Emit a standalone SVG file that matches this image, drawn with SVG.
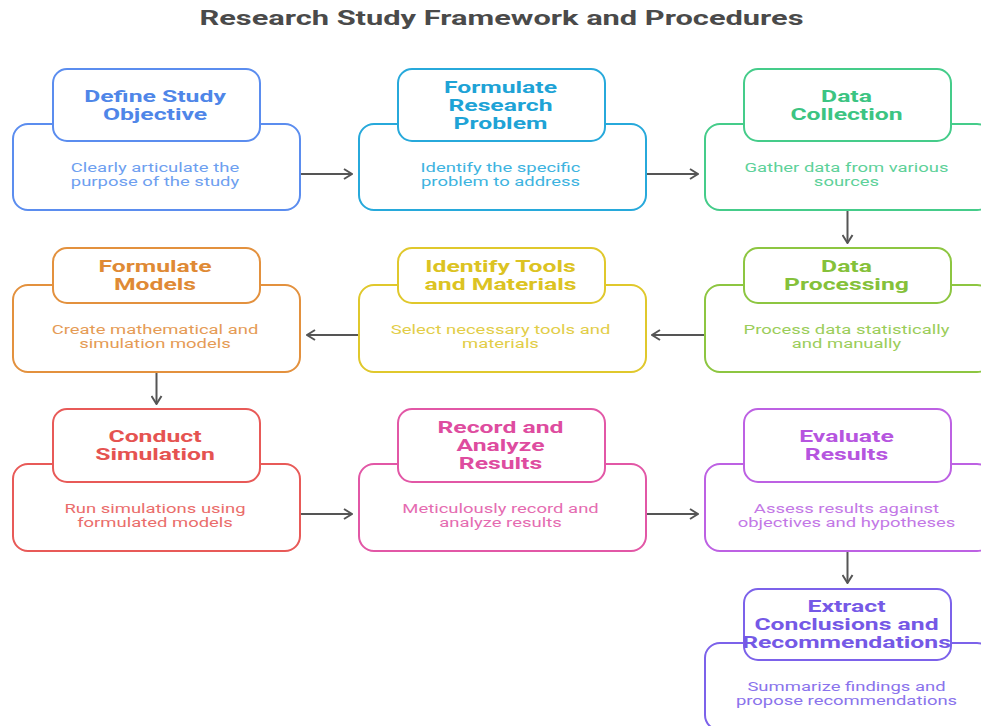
<svg xmlns="http://www.w3.org/2000/svg" width="981" height="726" viewBox="0 0 981 726">
<defs>
<style>
.hd{font-family:Roboto,"Liberation Sans",sans-serif;font-weight:bold;font-size:16.5px;text-anchor:middle}
.bd{font-family:Roboto,"Liberation Sans",sans-serif;font-size:13px;text-anchor:middle}
.box{fill:#fff;stroke-width:2}
.conn{stroke:#555;stroke-width:2;fill:none}
.title{font-family:Roboto,"Liberation Sans",sans-serif;font-weight:bold;font-size:20px;text-anchor:middle;fill:#4a4a4a}
</style>
<marker id="ah" viewBox="0 0 10 12" refX="9" refY="6" markerWidth="10" markerHeight="12" markerUnits="userSpaceOnUse" orient="auto">
<path d="M1 1 L9 6 L1 11" fill="none" stroke="#555" stroke-width="2"/>
</marker>
</defs>
<rect width="981" height="726" fill="#fff"/>
<g transform="translate(501.5 0) scale(1.54 1)"><text class="title" x="0" y="25">Research Study Framework and Procedures</text></g>

<g id="connectors">
<line class="conn" x1="300" y1="174" x2="352" y2="174" marker-end="url(#ah)"/>
<line class="conn" x1="646" y1="174" x2="698" y2="174" marker-end="url(#ah)"/>
<line class="conn" x1="847.5" y1="211" x2="847.5" y2="243" marker-end="url(#ah)"/>
<line class="conn" x1="705" y1="335" x2="652" y2="335" marker-end="url(#ah)"/>
<line class="conn" x1="359" y1="335" x2="307" y2="335" marker-end="url(#ah)"/>
<line class="conn" x1="156.5" y1="372" x2="156.5" y2="404" marker-end="url(#ah)"/>
<line class="conn" x1="300" y1="514" x2="352" y2="514" marker-end="url(#ah)"/>
<line class="conn" x1="646" y1="514" x2="698" y2="514" marker-end="url(#ah)"/>
<line class="conn" x1="847.5" y1="551" x2="847.5" y2="583" marker-end="url(#ah)"/>
</g>

<g id="n1">
<rect class="box" x="13" y="124" width="287" height="86" rx="15" stroke="#5b8def"/>
<rect class="box" x="53" y="69" width="207" height="72" rx="14" stroke="#5b8def"/>
<g transform="translate(155 0) scale(1.5 1)">
<text class="hd" x="0" y="102.5" fill="#4f86e8">Define Study</text>
<text class="hd" x="0" y="120.5" fill="#4f86e8">Objective</text>
</g>
<g transform="translate(155 0) scale(1.42 1)">
<text class="bd" x="0" y="172.5" fill="#6e9ff0">Clearly articulate the</text>
<text class="bd" x="0" y="186.5" fill="#6e9ff0">purpose of the study</text>
</g>
</g>

<g id="n2">
<rect class="box" x="359" y="124" width="287" height="86" rx="15" stroke="#27a9db"/>
<rect class="box" x="398" y="69" width="207" height="72" rx="14" stroke="#27a9db"/>
<g transform="translate(500.5 0) scale(1.5 1)">
<text class="hd" x="0" y="93" fill="#1ea3d6">Formulate</text>
<text class="hd" x="0" y="111" fill="#1ea3d6">Research</text>
<text class="hd" x="0" y="129" fill="#1ea3d6">Problem</text>
</g>
<g transform="translate(500.5 0) scale(1.42 1)">
<text class="bd" x="0" y="172.5" fill="#3db3e0">Identify the specific</text>
<text class="bd" x="0" y="186.5" fill="#3db3e0">problem to address</text>
</g>
</g>

<g id="n3">
<rect class="box" x="705" y="124" width="287" height="86" rx="15" stroke="#45cc8a"/>
<rect class="box" x="744" y="69" width="207" height="72" rx="14" stroke="#45cc8a"/>
<g transform="translate(846.5 0) scale(1.5 1)">
<text class="hd" x="0" y="102.5" fill="#3cc482">Data</text>
<text class="hd" x="0" y="120.5" fill="#3cc482">Collection</text>
</g>
<g transform="translate(846.5 0) scale(1.42 1)">
<text class="bd" x="0" y="172.5" fill="#5dd199">Gather data from various</text>
<text class="bd" x="0" y="186.5" fill="#5dd199">sources</text>
</g>
</g>

<g id="n4">
<rect class="box" x="705" y="285" width="287" height="87" rx="15" stroke="#8dc641"/>
<rect class="box" x="744" y="248" width="207" height="55" rx="14" stroke="#8dc641"/>
<g transform="translate(846.5 0) scale(1.5 1)">
<text class="hd" x="0" y="272.5" fill="#85c13a">Data</text>
<text class="hd" x="0" y="290.5" fill="#85c13a">Processing</text>
</g>
<g transform="translate(846.5 0) scale(1.42 1)">
<text class="bd" x="0" y="334" fill="#9bcd5a">Process data statistically</text>
<text class="bd" x="0" y="348" fill="#9bcd5a">and manually</text>
</g>
</g>

<g id="n5">
<rect class="box" x="359" y="285" width="287" height="87" rx="15" stroke="#e0c82c"/>
<rect class="box" x="398" y="248" width="207" height="55" rx="14" stroke="#e0c82c"/>
<g transform="translate(500.5 0) scale(1.5 1)">
<text class="hd" x="0" y="272.5" fill="#dcc322">Identify Tools</text>
<text class="hd" x="0" y="290.5" fill="#dcc322">and Materials</text>
</g>
<g transform="translate(500.5 0) scale(1.42 1)">
<text class="bd" x="0" y="334" fill="#e2cd47">Select necessary tools and</text>
<text class="bd" x="0" y="348" fill="#e2cd47">materials</text>
</g>
</g>

<g id="n6">
<rect class="box" x="13" y="285" width="287" height="87" rx="15" stroke="#e3913e"/>
<rect class="box" x="53" y="248" width="207" height="55" rx="14" stroke="#e3913e"/>
<g transform="translate(155 0) scale(1.5 1)">
<text class="hd" x="0" y="272.5" fill="#df8a35">Formulate</text>
<text class="hd" x="0" y="290.5" fill="#df8a35">Models</text>
</g>
<g transform="translate(155 0) scale(1.42 1)">
<text class="bd" x="0" y="334" fill="#e59b55">Create mathematical and</text>
<text class="bd" x="0" y="348" fill="#e59b55">simulation models</text>
</g>
</g>

<g id="n7">
<rect class="box" x="13" y="464" width="287" height="87" rx="15" stroke="#e85a58"/>
<rect class="box" x="53" y="409" width="207" height="73" rx="14" stroke="#e85a58"/>
<g transform="translate(155 0) scale(1.5 1)">
<text class="hd" x="0" y="442.5" fill="#e55351">Conduct</text>
<text class="hd" x="0" y="460.5" fill="#e55351">Simulation</text>
</g>
<g transform="translate(155 0) scale(1.42 1)">
<text class="bd" x="0" y="513" fill="#ea6d6b">Run simulations using</text>
<text class="bd" x="0" y="527" fill="#ea6d6b">formulated models</text>
</g>
</g>

<g id="n8">
<rect class="box" x="359" y="464" width="287" height="87" rx="15" stroke="#e257a6"/>
<rect class="box" x="398" y="409" width="207" height="73" rx="14" stroke="#e257a6"/>
<g transform="translate(500.5 0) scale(1.5 1)">
<text class="hd" x="0" y="433.5" fill="#de4c9f">Record and</text>
<text class="hd" x="0" y="451.5" fill="#de4c9f">Analyze</text>
<text class="hd" x="0" y="469.5" fill="#de4c9f">Results</text>
</g>
<g transform="translate(500.5 0) scale(1.42 1)">
<text class="bd" x="0" y="513" fill="#e56cb1">Meticulously record and</text>
<text class="bd" x="0" y="527" fill="#e56cb1">analyze results</text>
</g>
</g>

<g id="n9">
<rect class="box" x="705" y="464" width="287" height="87" rx="15" stroke="#bd61e3"/>
<rect class="box" x="744" y="409" width="207" height="73" rx="14" stroke="#bd61e3"/>
<g transform="translate(846.5 0) scale(1.5 1)">
<text class="hd" x="0" y="442.5" fill="#b655df">Evaluate</text>
<text class="hd" x="0" y="460.5" fill="#b655df">Results</text>
</g>
<g transform="translate(846.5 0) scale(1.42 1)">
<text class="bd" x="0" y="513" fill="#c378e6">Assess results against</text>
<text class="bd" x="0" y="527" fill="#c378e6">objectives and hypotheses</text>
</g>
</g>

<g id="n10">
<rect class="box" x="705" y="643" width="287" height="87" rx="15" stroke="#7c62ea"/>
<rect class="box" x="744" y="589" width="207" height="71" rx="14" stroke="#7c62ea"/>
<g transform="translate(846.5 0) scale(1.5 1)">
<text class="hd" x="0" y="612.5" fill="#7559e6">Extract</text>
<text class="hd" x="0" y="630.5" fill="#7559e6">Conclusions and</text>
<text class="hd" x="0" y="648.5" fill="#7559e6">Recommendations</text>
</g>
<g transform="translate(846.5 0) scale(1.42 1)">
<text class="bd" x="0" y="691" fill="#8a73ec">Summarize findings and</text>
<text class="bd" x="0" y="705" fill="#8a73ec">propose recommendations</text>
</g>
</g>
</svg>
